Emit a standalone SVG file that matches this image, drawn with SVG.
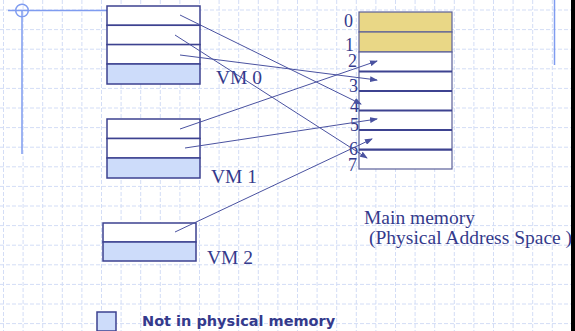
<svg xmlns="http://www.w3.org/2000/svg" width="575" height="331" viewBox="0 0 575 331">
<defs>
<style>
.grid{stroke:#d3ddf6;stroke-width:1;stroke-dasharray:4 2;fill:none}
.deco{stroke:#7f9cf0;stroke-width:1.5;fill:none}
.page{fill:#ffffff;stroke:#3d4290;stroke-width:1.5}
.out{fill:#cddcfa;stroke:#3d4290;stroke-width:1.5}
.res{fill:#e9d786;stroke:#5a5f9a;stroke-width:1.2}
.lbl{font-family:"Liberation Serif","Times New Roman",serif;font-size:19.5px;fill:#343a8c}
.num{font-family:"Liberation Serif","Times New Roman",serif;font-size:18px;fill:#343a8c}
.conn{stroke:#4a52a0;stroke-width:1;fill:none;marker-end:url(#ah)}
.legend{font-family:"DejaVu Sans",Verdana,sans-serif;font-weight:bold;font-size:14.5px;fill:#343a8c}
</style>
<marker id="ah" markerUnits="userSpaceOnUse" markerWidth="8" markerHeight="6" refX="7" refY="3" orient="auto">
<path d="M0,0 L8,3 L0,6 Z" fill="#4a52a0"/>
</marker>
</defs>
<rect width="575" height="331" fill="#ffffff"/>
<path class="grid" d="M0,10H575M0,29.6H575M0,49.2H575M0,68.8H575M0,88.4H575M0,108H575M0,127.6H575M0,147.2H575M0,166.8H575M0,186.4H575M0,206H575M0,225.6H575M0,245.2H575M0,264.8H575M0,284.4H575M0,304H575M0,323.6H575
M3.5,0V331M23.1,0V331M42.7,0V331M62.3,0V331M81.9,0V331M101.5,0V331M121.1,0V331M140.7,0V331M160.3,0V331M179.9,0V331M199.5,0V331M219.1,0V331M238.7,0V331M258.3,0V331M277.9,0V331M297.5,0V331M317.1,0V331M336.7,0V331M356.3,0V331M375.9,0V331M395.5,0V331M415.1,0V331M434.7,0V331M454.3,0V331M473.9,0V331M493.5,0V331M513.1,0V331M532.7,0V331M552.3,0V331"/>
<g id="decoration">
<path class="deco" d="M8,10.5H125M22,10.5V154M554.5,0V65"/>
<circle class="deco" cx="22" cy="10.5" r="6.3"/>
<rect x="571" y="0" width="4" height="331" fill="#000000"/>
</g>
<g id="vm0">
<rect class="page" x="107" y="6" width="93" height="19.3"/>
<rect class="page" x="107" y="25.3" width="93" height="19.3"/>
<rect class="page" x="107" y="44.6" width="93" height="19.4"/>
<rect class="out" x="107" y="64" width="93" height="20"/>
<text class="lbl" x="216" y="84">VM 0</text>
</g>
<g id="vm1">
<rect class="page" x="107" y="119" width="93" height="19.5"/>
<rect class="page" x="107" y="138.5" width="93" height="19.5"/>
<rect class="out" x="107" y="158" width="93" height="20"/>
<text class="lbl" x="211" y="183">VM 1</text>
</g>
<g id="vm2">
<rect class="page" x="103" y="223" width="93" height="19"/>
<rect class="out" x="103" y="242" width="93" height="19"/>
<text class="lbl" x="207" y="264">VM 2</text>
</g>
<g id="main-memory">
<rect class="res" x="359" y="12" width="93" height="20"/>
<rect class="res" x="359" y="32" width="93" height="20"/>
<rect x="359" y="52" width="93" height="117" fill="#ffffff" stroke="#5a5f9a" stroke-width="1.2"/>
<path d="M359,71.5H452M359,91H452M359,110.5H452M359,130H452M359,149.7H452" stroke="#3d4290" stroke-width="2.2"/>
<text class="num" x="344" y="27">0</text>
<text class="num" x="345" y="51">1</text>
<text class="num" x="348" y="67">2</text>
<text class="num" x="349" y="92">3</text>
<text class="num" x="350" y="112">4</text>
<text class="num" x="350" y="131">5</text>
<text class="num" x="349" y="155">6</text>
<text class="num" x="348" y="171">7</text>
<text class="lbl" x="364" y="224">Main memory</text>
<text class="lbl" x="369" y="244">(Physical Address Space )</text>
</g>
<g id="connectors">
<line class="conn" x1="180" y1="15" x2="361" y2="104"/>
<line class="conn" x1="175" y1="35" x2="367" y2="158"/>
<line class="conn" x1="180" y1="55" x2="377" y2="80"/>
<line class="conn" x1="180" y1="129" x2="377" y2="61"/>
<line class="conn" x1="185" y1="148" x2="377" y2="119"/>
<line class="conn" x1="175" y1="232" x2="372" y2="139"/>
</g>
<g id="legend">
<rect class="out" x="97" y="312" width="19" height="19" stroke="#5a6aa8" stroke-width="1.2"/>
<text class="legend" x="142" y="326">Not in physical memory</text>
</g>
</svg>
